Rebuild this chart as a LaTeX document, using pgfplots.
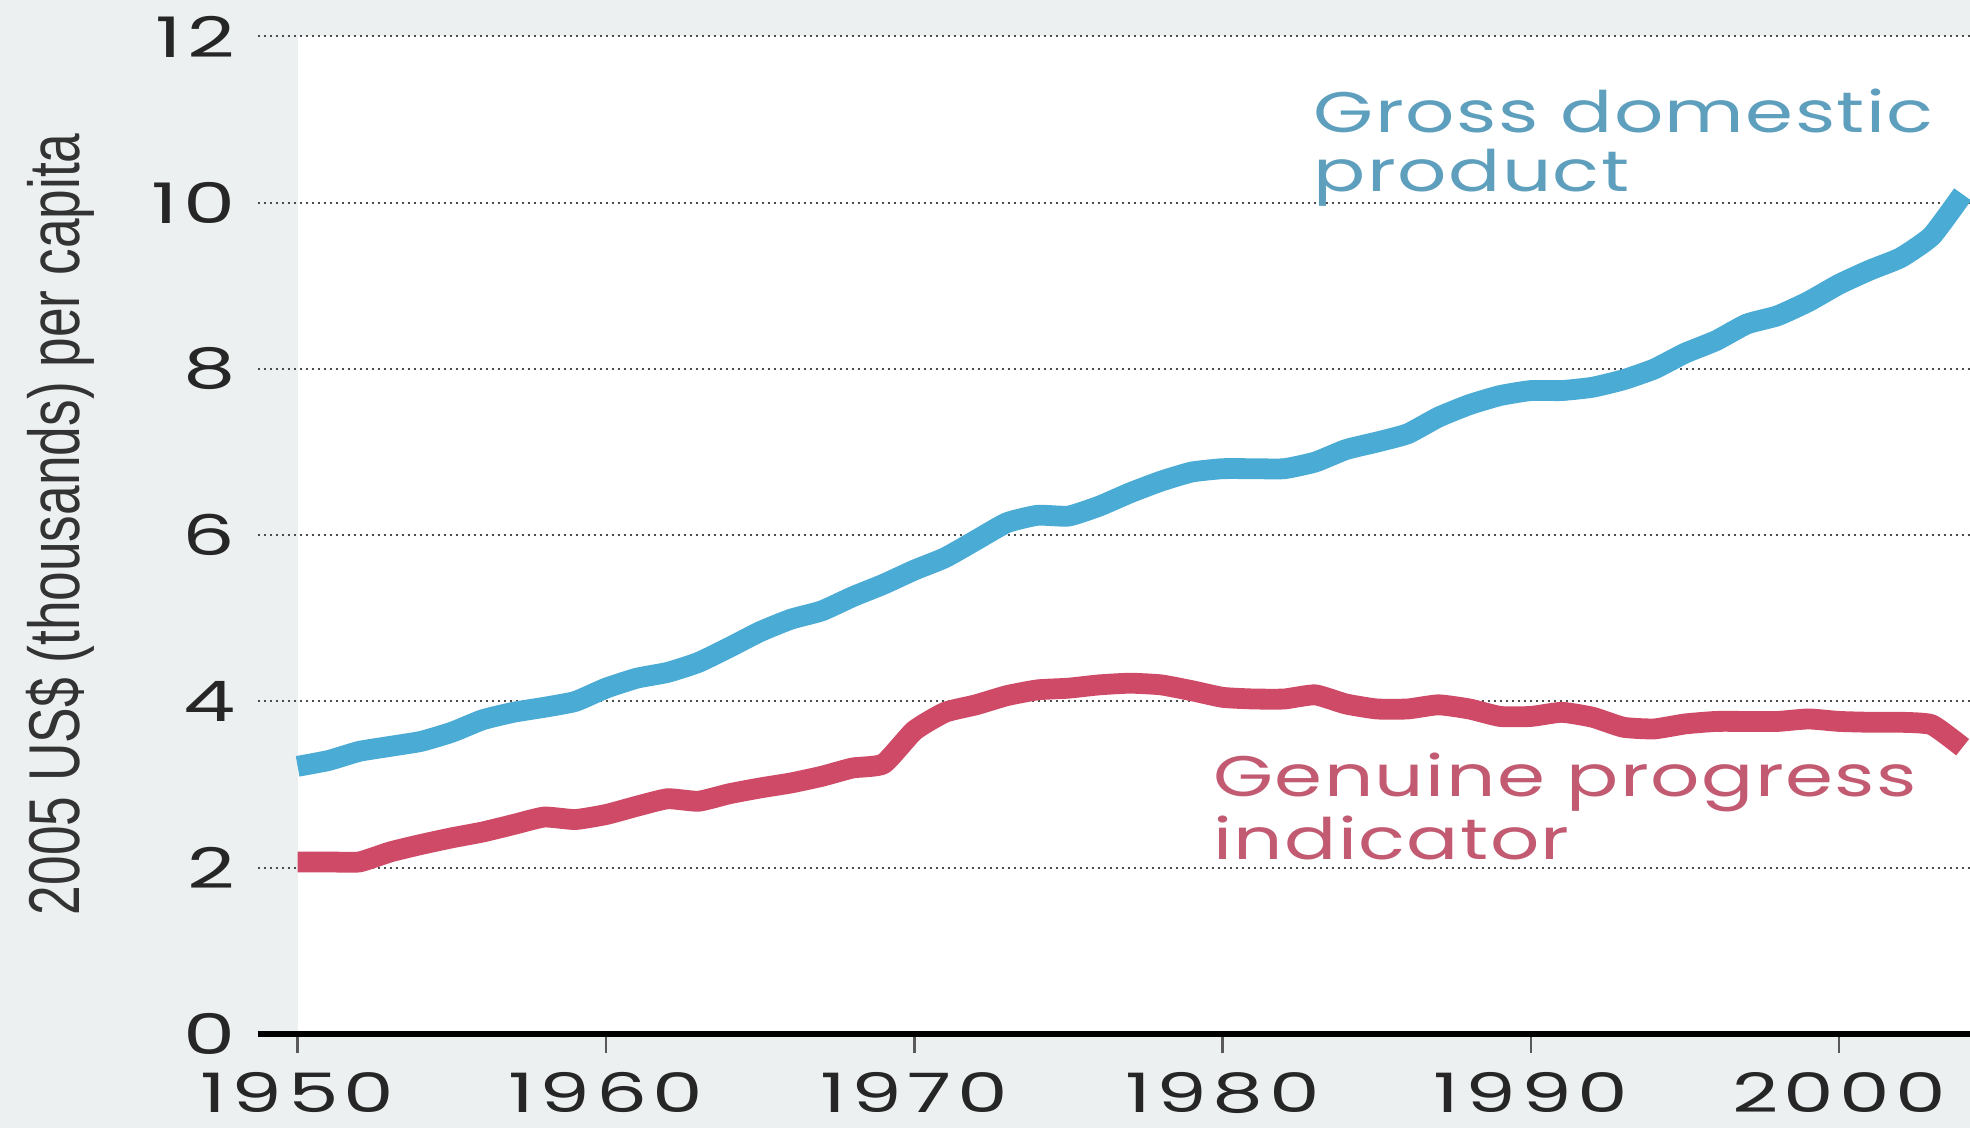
\documentclass[border=0pt]{standalone}
\usepackage{pgfplots}
\pgfplotsset{compat=1.18}
\usepackage{fontspec}
\setmainfont{Liberation Sans}
\newfontfamily\tickf[FakeStretch=1.48, LetterSpace=10]{Poppins}
\newfontfamily\widef[FakeStretch=1.35, LetterSpace=2.5]{Poppins}
\newfontfamily\narrowf[FakeStretch=0.74]{Liberation Sans}

\definecolor{bggray}{HTML}{EDF0F1}
\definecolor{gdpblue}{HTML}{4AABD5}
\definecolor{gpired}{HTML}{CF4A66}
\definecolor{gdptext}{HTML}{5E9FBE}
\definecolor{gpitext}{HTML}{C25A72}

\begin{document}
\begin{tikzpicture}
\begin{axis}[
    set layers,
    clip mode=individual,
    scale only axis,
    width=428.1pt, height=249.4pt,
    xmin=1948.7, xmax=2004.24,
    ymin=0, ymax=12,
    axis x line*=bottom, axis y line*=left,
    x axis line style={line width=1.5pt, black},
    y axis line style={draw=none},
    xtick={1950,1960,1970,1980,1990,2000},
    ytick={0,2,4,6,8,10,12},
    tick align=outside,
    major tick length=4.75pt,
    xtick style={black!65, line width=0.6pt},
    ytick style={draw=none},
    ymajorgrids,
    major grid style={line width=0.5pt, black!70, densely dotted},
    /pgf/number format/assume math mode=true,
    /pgf/number format/1000 sep={},
    xticklabel style={font=\tickf\fontsize{13.6}{13.6}\selectfont, text=black!85,
        inner sep=0pt, anchor=north, yshift=-4.6pt},
    yticklabel style={font=\tickf\fontsize{14}{14}\selectfont, text=black!85,
        inner sep=0pt, anchor=east, xshift=-0.6pt},
    ylabel={2005 US\$ (thousands) per capita},
    ylabel style={at={(rel axis cs:-0.1154,0.511)}, anchor=center,
        font=\narrowf\fontsize{18}{18}\selectfont, text=black!80, inner sep=0pt},
]
\begin{pgfonlayer}{axis background}
    \fill[bggray] (rel axis cs:-0.1504,-0.0942) rectangle (rel axis cs:1,1.0365);
    \fill[white] (axis cs:1950,0) rectangle (axis cs:2004.24,12);
\end{pgfonlayer}
\coordinate (bbSW) at (rel axis cs:-0.1504,-0.0942);
\coordinate (bbNE) at (rel axis cs:1,1.0365);

% GDP per capita
\addplot[gdpblue, line width=5.2pt, line join=round, line cap=butt, smooth, tension=0.3]
coordinates {
(1950,3.22)(1951,3.29)(1952,3.40)(1953,3.46)(1954,3.52)(1955,3.63)(1956,3.78)
(1957,3.87)(1958,3.93)(1959,4.00)(1960,4.16)(1961,4.28)(1962,4.35)(1963,4.47)
(1964,4.65)(1965,4.84)(1966,4.99)(1967,5.09)(1968,5.26)(1969,5.41)(1970,5.58)
(1971,5.73)(1972,5.94)(1973,6.15)(1974,6.24)(1975,6.23)(1976,6.35)(1977,6.51)
(1978,6.65)(1979,6.76)(1980,6.80)(1981,6.80)(1982,6.80)(1983,6.88)(1984,7.03)
(1985,7.12)(1986,7.22)(1987,7.42)(1988,7.57)(1989,7.68)(1990,7.74)(1991,7.74)
(1992,7.78)(1993,7.87)(1994,8.00)(1995,8.19)(1996,8.34)(1997,8.54)(1998,8.64)
(1999,8.81)(2000,9.02)(2001,9.19)(2002,9.34)(2003,9.60)(2004,10.10)
};

% Genuine progress indicator
\addplot[gpired, line width=5.2pt, line join=round, line cap=butt, smooth, tension=0.3]
coordinates {
(1950,2.07)(1951,2.07)(1952,2.07)(1953,2.19)(1954,2.28)(1955,2.36)(1956,2.43)
(1957,2.52)(1958,2.61)(1959,2.58)(1960,2.64)(1961,2.74)(1962,2.83)(1963,2.80)
(1964,2.89)(1965,2.96)(1966,3.02)(1967,3.10)(1968,3.20)(1969,3.25)(1970,3.65)
(1971,3.87)(1972,3.96)(1973,4.07)(1974,4.14)(1975,4.16)(1976,4.20)(1977,4.22)
(1978,4.20)(1979,4.13)(1980,4.05)(1981,4.03)(1982,4.03)(1983,4.08)(1984,3.97)
(1985,3.91)(1986,3.91)(1987,3.96)(1988,3.91)(1989,3.82)(1990,3.82)(1991,3.87)
(1992,3.81)(1993,3.69)(1994,3.67)(1995,3.73)(1996,3.76)(1997,3.76)(1998,3.76)
(1999,3.79)(2000,3.76)(2001,3.75)(2002,3.75)(2003,3.72)(2004,3.45)
};

\node[anchor=base west, inner sep=0pt, text=gdptext, font=\widef\fontsize{14.3}{15}\selectfont]
    at (axis cs:1982.93,10.85) {Gross domestic};
\node[anchor=base west, inner sep=0pt, text=gdptext, font=\widef\fontsize{14.3}{15}\selectfont]
    at (axis cs:1982.93,10.13) {product};
\node[anchor=base west, inner sep=0pt, text=gpitext, font=\widef\fontsize{14.3}{15}\selectfont]
    at (axis cs:1979.67,2.86) {Genuine progress};
\node[anchor=base west, inner sep=0pt, text=gpitext, font=\widef\fontsize{14.3}{15}\selectfont]
    at (axis cs:1979.67,2.10) {indicator};
\end{axis}
\pgfresetboundingbox
\path[use as bounding box] (bbSW) rectangle (bbNE);
\end{tikzpicture}
\end{document}
